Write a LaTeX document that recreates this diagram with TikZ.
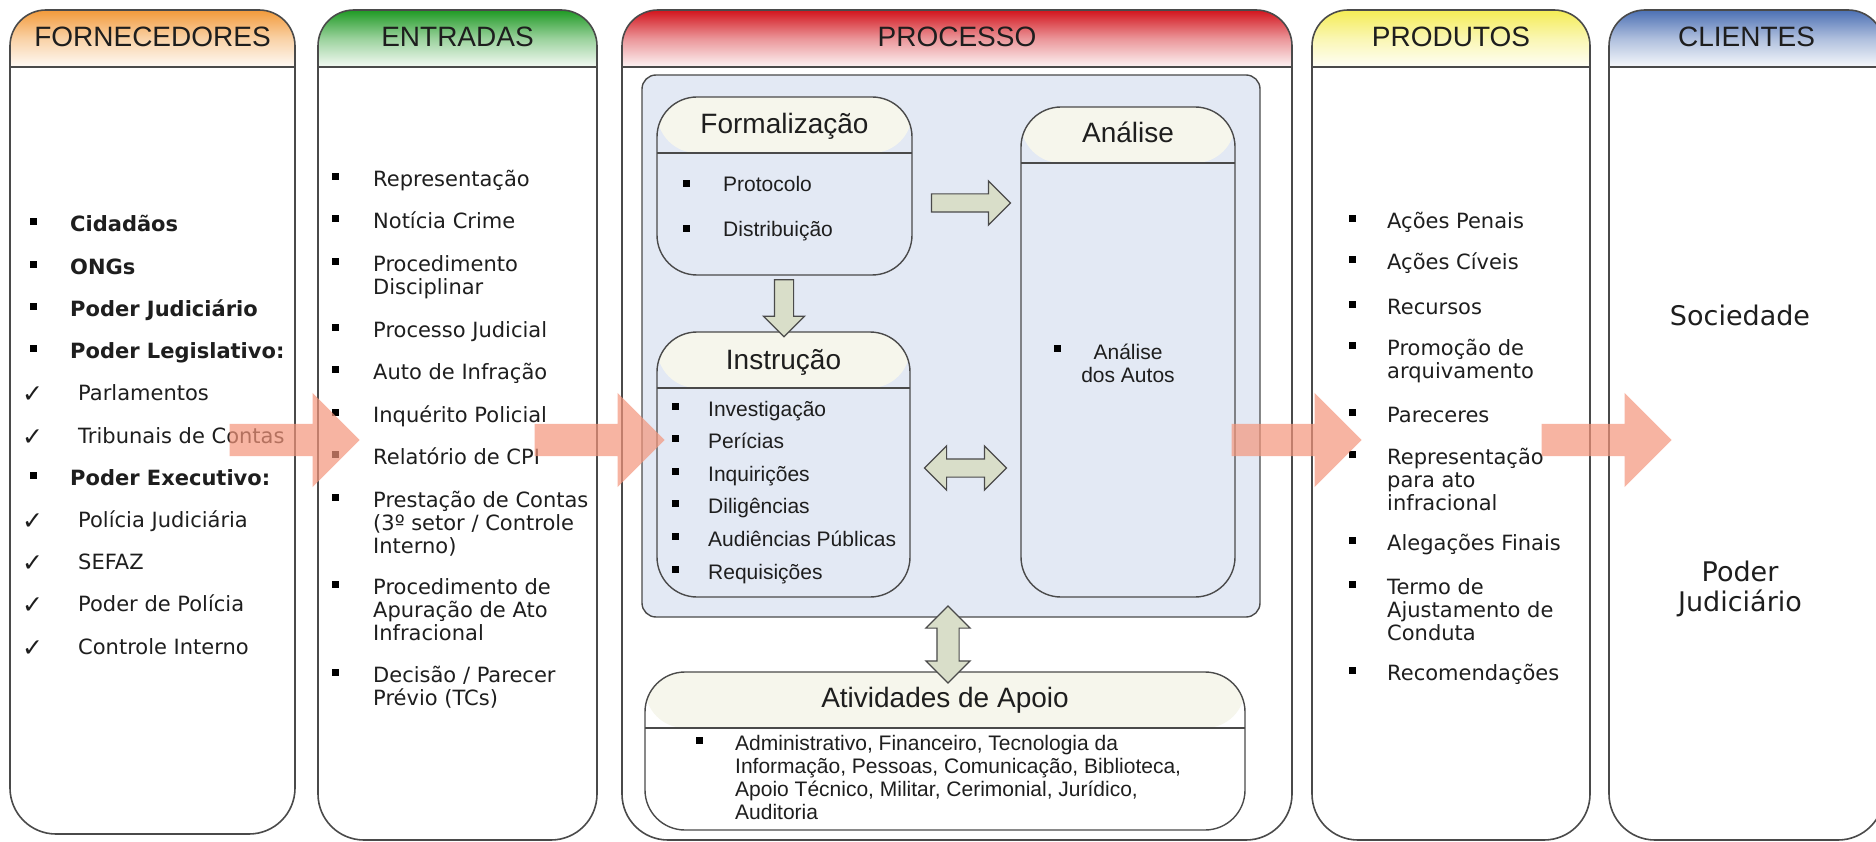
\documentclass[tikz,border=0pt]{standalone}
\usepackage{fontspec}
\setmainfont{Liberation Sans}
\newfontfamily\verdana{DejaVu Sans}
\usetikzlibrary{shapes.arrows,calc}

\definecolor{laranja}{HTML}{F29A3A}
\definecolor{verde}{HTML}{1F9A24}
\definecolor{vermelho}{HTML}{D2141C}
\definecolor{amarelo}{HTML}{F4EC55}
\definecolor{azul}{HTML}{4C70B4}
\definecolor{painel}{HTML}{E3E9F4}
\definecolor{creme}{HTML}{F6F6EC}
\definecolor{oliva}{HTML}{D9DEC9}
\definecolor{salmao}{HTML}{F4957B}
\definecolor{borda}{HTML}{4A4A4A}
\definecolor{tinta}{HTML}{1E1E1E}

\newcommand{\linhas}[1]{\begin{tabular}[t]{@{}l@{}}#1\end{tabular}}
\newcommand{\centro}[1]{\begin{tabular}[t]{@{}c@{}}#1\end{tabular}}

% coluna: x esquerdo, x direito, base, cor, titulo, nome
\newcommand{\coluna}[6]{%
  \draw[draw=borda, line width=1.6pt, rounded corners=36pt, top color=#4, bottom color=#4!5!white, middle color=#4!45!white] (#1,67) -- (#1,10) -- (#2,10) -- (#2,67); % cabecalho
  \draw[draw=borda, line width=1.6pt, rounded corners=46pt, fill=white] (#1,67) -- (#1,#3) -- (#2,#3) -- (#2,67); % corpo
  \draw[borda, line width=1.6pt] (#1,67) -- (#2,67);
  \node[titulo] (#6) at ({(#1+#2)/2},47) {#5};
}

\begin{document}
\begin{tikzpicture}[x=1pt, y=-1pt,
    titulo/.style={font=\fontsize{28}{30}\selectfont, text=tinta, anchor=base, inner sep=0pt},
    texto/.style={font=\verdana\fontsize{21}{23}\selectfont, text=tinta, anchor=base west, inner sep=0pt},
    textob/.style={texto, font=\verdana\bfseries\fontsize{21}{23}\selectfont},
    textop/.style={font=\fontsize{21}{23}\selectfont, text=tinta, anchor=base west, inner sep=0pt},
    marca/.style={fill=black, minimum size=7pt, inner sep=0pt},
    visto/.style={font=\verdana\fontsize{25}{26}\selectfont, text=tinta, anchor=base west, inner sep=0pt},
    caixa/.style={draw=borda, line width=1.4pt, rounded corners=40pt, fill=painel, inner sep=0pt,
      path picture={
        \fill[creme] (path picture bounding box.north west) rectangle ([yshift=-56pt]path picture bounding box.north east);
        \draw[borda, line width=1.4pt] ([yshift=-56pt]path picture bounding box.north west) -- ([yshift=-56pt]path picture bounding box.north east);}},
    seta oliva/.style={single arrow, draw=borda, line width=1.2pt, fill=oliva, single arrow head indent=0pt},
    dupla oliva/.style={double arrow, draw=borda, line width=1.2pt, fill=oliva, double arrow head indent=0pt},
    seta salmao/.style={single arrow, fill=salmao, fill opacity=0.7, inner sep=16pt, anchor=tip,
      minimum width=94pt, single arrow head extend=31pt, single arrow head indent=0pt, minimum height=130pt}]

    \useasboundingbox (0,0) rectangle (1876,842);
    \fill[white] (0,0) rectangle (1876,842);

    % Colunas
    \coluna{10}{295}{834}{laranja}{FORNECEDORES}{forn}
    \coluna{318}{597}{840}{verde}{ENTRADAS}{entr}
    \coluna{622}{1292}{840}{vermelho}{PROCESSO}{proc}
    \coluna{1312}{1590}{840}{amarelo}{PRODUTOS}{prod}
    \coluna{1609}{1884}{840}{azul}{CLIENTES}{clie}

    % Fornecedores
    \foreach \i/\t in {0/Cidadãos, 1/ONGs, 2/Poder Judiciário, 3/Poder Legislativo:, 6/Poder Executivo:} {
        \node[textob] (f-\i) at (70,232+42.2*\i) {\t};
        \node[marca] (fm-\i) at ([xshift=-37pt,yshift=10pt]f-\i.base west) {};
    }
    \foreach \i/\t in {4/Parlamentos, 5/Tribunais de Contas, 7/Polícia Judiciária, 8/SEFAZ, 9/Poder de Polícia, 10/Controle Interno} {
        \node[texto] (f-\i) at (78,232+42.2*\i) {\t};
        \node[visto] (fv-\i) at ([xshift=-56pt,yshift=-2pt]f-\i.base west) {✓};
    }

    % Entradas
    \foreach \y/\t [count=\i] in {187/Representação, 229/Notícia Crime, 272/{Procedimento\\Disciplinar},
        337/Processo Judicial, 379/Auto de Infração, 422/Inquérito Policial, 464/Relatório de CPI,
        507/{Prestação de Contas\\(3º setor / Controle\\Interno)}, 594/{Procedimento de\\Apuração de Ato\\Infracional},
        682/{Decisão / Parecer\\Prévio (TCs)}} {
        \node[texto] (e-\i) at (373,\y) {\linhas{\t}};
        \node[marca] (em-\i) at ([xshift=-38pt,yshift=10pt]e-\i.base west) {};
    }

    % Painel do processo
    \node[draw=borda, line width=1.4pt, fill=painel, rounded corners=14pt, minimum width=618pt, minimum height=542pt, inner sep=0pt] (painel) at (951,346) {};

    \node[caixa, minimum width=255pt, minimum height=178pt] (formal) at (784.5,186) {};
    \node[caixa, minimum width=253pt, minimum height=265pt] (instr) at (783.5,464.5) {};
    \node[caixa, minimum width=214pt, minimum height=490pt] (analise) at (1128,352) {};
    \node[caixa, fill=white, minimum width=600pt, minimum height=158pt] (apoio) at (945,751) {};

    \node[titulo] (formal-t) at ($(formal.north)+(0,37)$) {Formalização};
    \node[titulo] (instr-t) at ($(instr.north)+(0,38)$) {Instrução};
    \node[titulo] (analise-t) at ($(analise.north)+(0,36)$) {Análise};
    \node[titulo] (apoio-t) at ($(apoio.north)+(0,36)$) {Atividades de Apoio};

    % Formalizacao
    \foreach \y/\t [count=\i] in {192/Protocolo, 237/Distribuição} {
        \node[textop] (fo-\i) at (723,\y) {\t};
        \node[marca] (fom-\i) at ([xshift=-37pt,yshift=8pt]fo-\i.base west) {};
    }

    % Instrucao
    \foreach \t [count=\i from 0] in {Investigação, Perícias, Inquirições, Diligências, Audiências Públicas, Requisições} {
        \node[textop] (in-\i) at (708,416+32.6*\i) {\t};
        \node[marca] (inm-\i) at ([xshift=-33pt,yshift=10pt]in-\i.base west) {};
    }

    % Analise
    \node[textop, anchor=base] (an-1) at (1128,359) {\centro{Análise\\dos Autos}};
    \node[marca] (anm-1) at (1057,348) {};

    % Apoio
    \node[textop] (ap-1) at (735,750) {\linhas{Administrativo, Financeiro, Tecnologia da\\Informação, Pessoas, Comunicação, Biblioteca,\\Apoio Técnico, Militar, Cerimonial, Jurídico,\\Auditoria}};
    \node[marca] (apm-1) at ([xshift=-36pt,yshift=10pt]ap-1.base west) {};

    % Produtos
    \foreach \y/\t [count=\i] in {229/Ações Penais, 270/Ações Cíveis, 314/Recursos, 355/{Promoção de\\arquivamento},
        422/Pareceres, 464/{Representação\\para ato\\infracional}, 550/Alegações Finais,
        594/{Termo de\\Ajustamento de\\Conduta}, 680/Recomendações} {
        \node[texto] (p-\i) at (1387,\y) {\linhas{\t}};
        \node[marca] (pm-\i) at ([xshift=-35pt,yshift=10pt]p-\i.base west) {};
    }

    % Clientes
    \node[texto, anchor=base, font=\verdana\fontsize{27}{30}\selectfont] (c-1) at (1740,325) {Sociedade};
    \node[texto, anchor=base, font=\verdana\fontsize{27}{30}\selectfont] (c-2) at (1740,581) {\centro{Poder\\Judiciário}};

    % Setas internas
    \node[seta oliva, inner sep=8.5pt, minimum height=79pt, minimum width=43pt, single arrow head extend=13pt] (f2a)
        at ($(formal.east)!0.5!(formal.east -| analise.west)+(0,17)$) {};
    \node[seta oliva, shape border rotate=270, inner sep=9pt, minimum height=57pt, minimum width=40pt, single arrow head extend=11pt] (f2i)
        at ($(formal.south)!0.5!(instr.north)$) {};
    \node[dupla oliva, inner sep=8.5pt, minimum height=82pt, minimum width=43pt, double arrow head extend=13pt] (i2a)
        at ($(instr.east)!0.5!(instr.east -| analise.west)+(0,3.5)$) {};
    \node[dupla oliva, shape border rotate=90, inner sep=10.5pt, minimum height=77pt, minimum width=43pt, double arrow head extend=11pt] (p2a)
        at ($(painel.south)!0.5!(apoio.north)$) {};

    % Setas entre colunas
    \node[seta salmao] (s-1) at (360,440) {};
    \node[seta salmao] (s-2) at (665,440) {};
    \node[seta salmao] (s-3) at (1362,440) {};
    \node[seta salmao] (s-4) at (1672,440) {};
\end{tikzpicture}
\end{document}
